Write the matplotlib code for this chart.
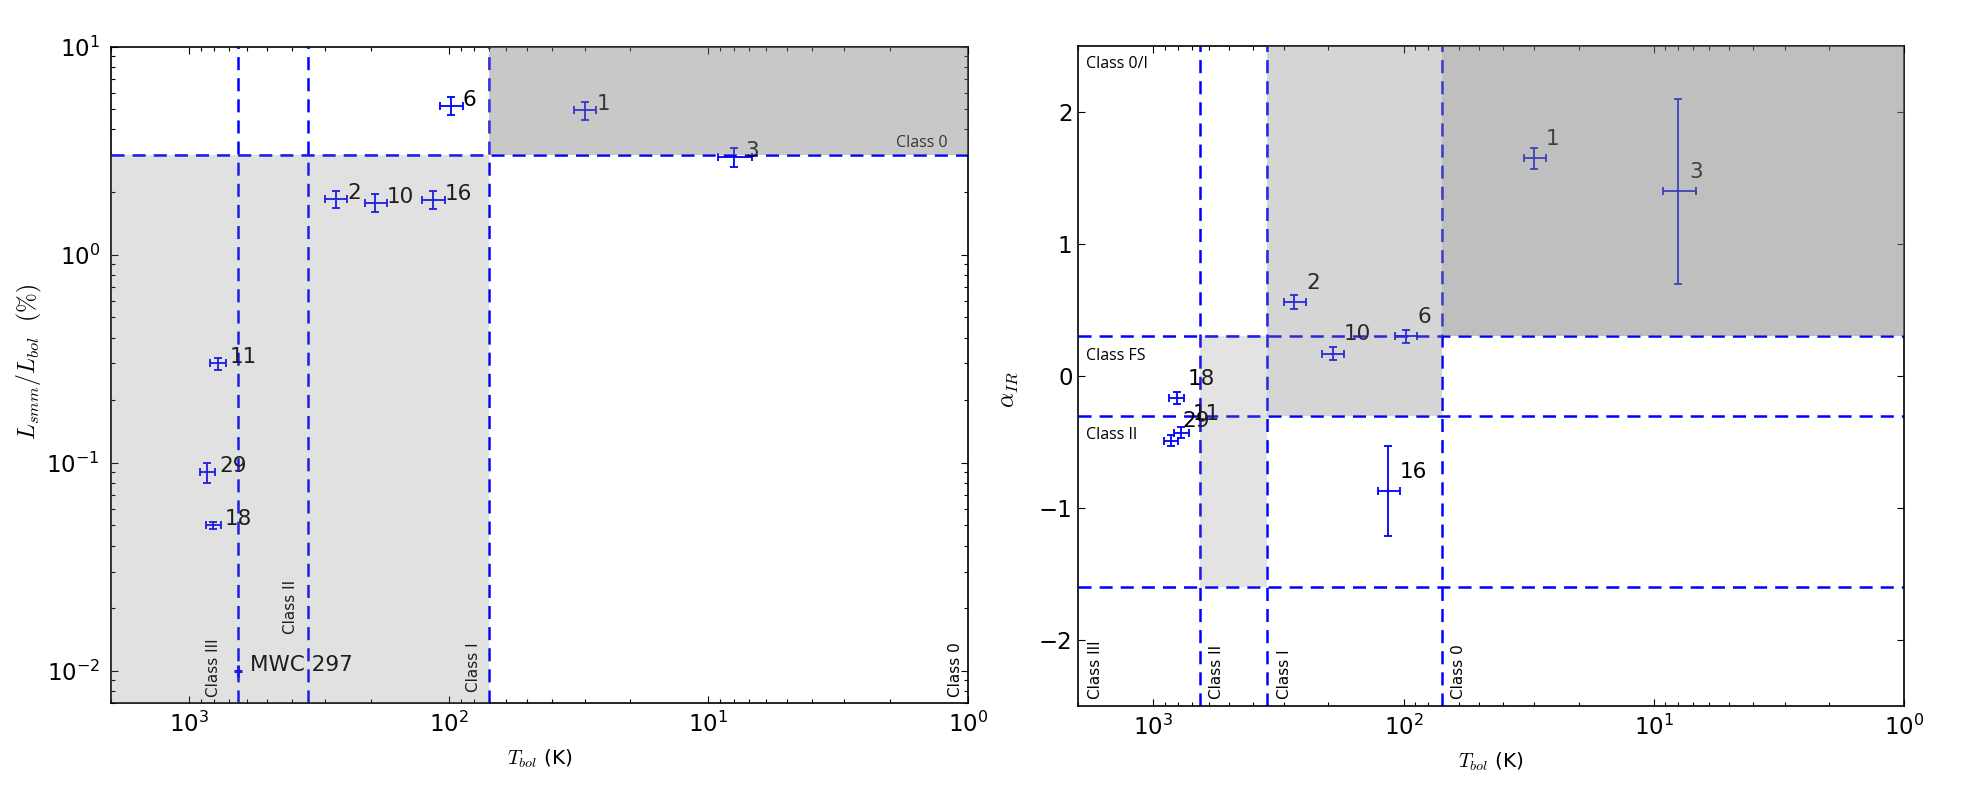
import numpy as np
import matplotlib
matplotlib.use('Agg')
from matplotlib import pyplot as plt

# sources: name, T_bol (K), L_smm/L_bol (%), alpha_IR
names = ['1', '2', '3', '6', '10', '11', '16', '18', '29', 'MWC 297']
tbol = [30, 273, 8, 98, 192, 776, 115, 808, 852, 650]
tbol_err = [3, 27, 1.2, 10, 19, 55, 12, 55, 55, 22]
lratio = [4.95, 1.85, 2.95, 5.2, 1.78, 0.30, 1.84, 0.050, 0.090, 0.010]
lratio_err = [0.5, 0.18, 0.3, 0.5, 0.17, 0.02, 0.18, 0.002, 0.01, 0.0007]

# alpha_IR is only known for the first nine (no MWC 297)
alpha_ir = [1.65, 0.56, 1.40, 0.30, 0.17, -0.43, -0.87, -0.17, -0.49]
alpha_err = [0.08, 0.05, 0.7, 0.05, 0.05, 0.04, 0.34, 0.045, 0.04]

# class boundaries
tbol_bounds = [650, 350, 70]
lratio_bound = 3.0
alpha_bounds = [0.3, -0.3, -1.6]

plt.rcParams['mathtext.fontset'] = 'cm'
plt.rcParams['lines.scale_dashes'] = False

dash = (0, (9.4, 5.8))
small_font = 'Open Sans'


def style_axis(ax, ypad):
    ax.tick_params(which='both', direction='in', top=True, right=True, labelsize=16.5)
    ax.tick_params(which='major', length=5, width=0.8)
    ax.tick_params(which='minor', length=3, width=0.8)
    ax.tick_params(axis='x', pad=6)
    ax.tick_params(axis='y', pad=ypad)
    for s in ax.spines.values():
        s.set_linewidth(1.2)


fig = plt.figure(figsize=(19.68, 7.87), dpi=100)

# ---- left panel: L_smm/L_bol vs T_bol
ax1 = fig.add_axes([0.0564, 0.1067, 0.4355, 0.834])
ax1.set_xscale('log')
ax1.set_yscale('log')
ax1.set_xlim(2000, 1)
ax1.set_ylim(0.007, 10)
x0, x1 = ax1.get_xlim()
y0, y1 = ax1.get_ylim()

for t in tbol_bounds:
    ax1.axvline(t, color='b', ls=dash, lw=1.8)
ax1.axhline(lratio_bound, color='b', ls=dash, lw=1.8)

# the disk sources with caps, MWC 297 as a bare cross
ax1.errorbar(tbol[:-1], lratio[:-1], xerr=tbol_err[:-1], yerr=lratio_err[:-1], fmt='none',
             ecolor='b', elinewidth=1.3, capsize=3, capthick=1.3)
ax1.errorbar(tbol[-1:], lratio[-1:], xerr=tbol_err[-1:], yerr=lratio_err[-1:], fmt='none',
             ecolor='b', elinewidth=2.2, capsize=0, zorder=3)
for n, t, l in zip(names, tbol, lratio):
    ax1.text(t * 0.9, l, n, fontsize=15.5)

ax1.text(754, 0.0075, 'Class III', rotation=90, ha='right', va='bottom', fontsize=11)
ax1.text(382, 0.0151, 'Class II', rotation=90, ha='right', va='bottom', fontsize=11)
ax1.text(75, 0.0079, 'Class I', rotation=90, ha='right', va='bottom', fontsize=11)
ax1.text(1.05, 0.0075, 'Class 0', rotation=90, ha='right', va='bottom', fontsize=11)
ax1.text(1.2, 3.3, 'Class 0', ha='right', va='baseline', fontsize=11.5, family=small_font)

# shaded regions drawn on top (they tint points and labels)
ax1.fill_between([x0, tbol_bounds[2]], y0, lratio_bound, color='0.5', alpha=0.235, lw=0, zorder=4)
ax1.fill_between([tbol_bounds[2], x1], lratio_bound, y1, color='0.5', alpha=0.43, lw=0, zorder=4)

ax1.set_xlabel(r'$T_{bol}$ (K)', fontsize=14.5, labelpad=8)
ax1.set_ylabel(r'$L_{smm}/L_{bol}$  $(\%)$', fontsize=17)
ax1.yaxis.set_label_coords(-0.078, 0.52)
style_axis(ax1, 8)

# ---- right panel: alpha_IR vs T_bol
ax2 = fig.add_axes([0.5478, 0.103, 0.4197, 0.8386])
ax2.set_xscale('log')
ax2.set_xlim(2000, 1)
ax2.set_ylim(-2.5, 2.5)
ax2.set_yticks([-2, -1, 0, 1, 2])
x0, x1 = ax2.get_xlim()
y0, y1 = ax2.get_ylim()

for t in tbol_bounds:
    ax2.axvline(t, color='b', ls=dash, lw=1.8)
for a in alpha_bounds:
    ax2.axhline(a, color='b', ls=dash, lw=1.8)

n9 = len(alpha_ir)
ax2.errorbar(tbol[:n9], alpha_ir, xerr=tbol_err[:n9], yerr=alpha_err, fmt='none',
             ecolor='b', elinewidth=1.3, capsize=3, capthick=1.3)
for n, t, a in zip(names[:n9], tbol[:n9], alpha_ir):
    ax2.text(t * 0.9, a + 0.1, n, fontsize=15.5)

ax2.text(1854, 2.33, 'Class 0/I', ha='left', va='baseline', fontsize=11.5, family=small_font)
ax2.text(1854, 0.118, 'Class FS', ha='left', va='baseline', fontsize=11.5, family=small_font)
ax2.text(1854, -0.48, 'Class II', ha='left', va='baseline', fontsize=11.5, family=small_font)

ax2.text(1824, -2.45, 'Class III', rotation=90, ha='left', va='bottom', fontsize=11)
ax2.text(598, -2.45, 'Class II', rotation=90, ha='left', va='bottom', fontsize=11)
ax2.text(322, -2.45, 'Class I', rotation=90, ha='left', va='bottom', fontsize=11)
ax2.text(64.9, -2.45, 'Class 0', rotation=90, ha='left', va='bottom', fontsize=11)

ax2.fill_between([tbol_bounds[2], x1], alpha_bounds[0], y1, color='0.5', alpha=0.5, lw=0, zorder=4)
ax2.fill_between([tbol_bounds[1], tbol_bounds[2]], alpha_bounds[1], y1, color='0.5', alpha=0.33, lw=0, zorder=4)
ax2.fill_between([tbol_bounds[0], tbol_bounds[1]], alpha_bounds[2], alpha_bounds[0], color='0.5', alpha=0.22, lw=0, zorder=4)

ax2.set_xlabel(r'$T_{bol}$ (K)', fontsize=14.5, labelpad=8)
ax2.set_ylabel(r'$\alpha_{IR}$', fontsize=17)
ax2.yaxis.set_label_coords(-0.07, 0.48)
style_axis(ax2, 4)

fig.savefig('out.png', dpi=100, facecolor='white')
